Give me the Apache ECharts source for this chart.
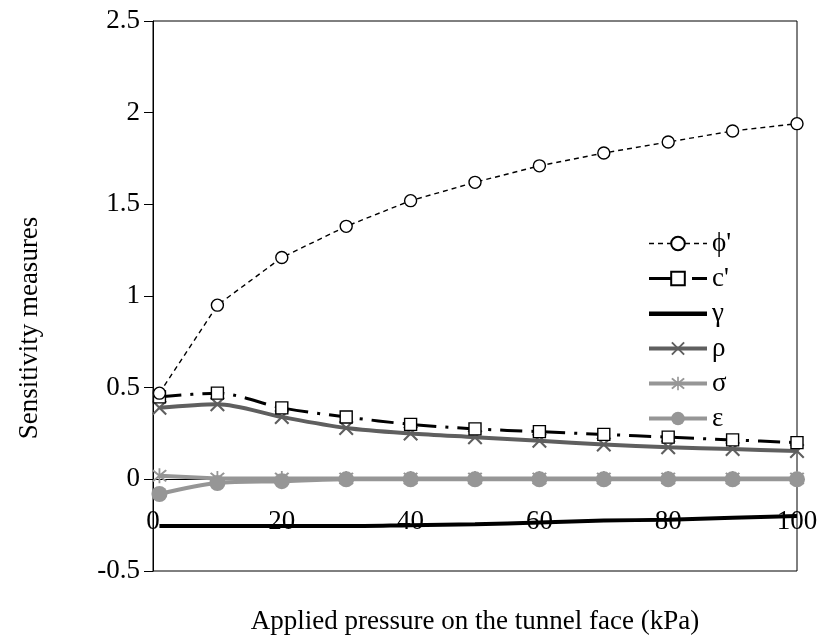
<!DOCTYPE html>
<html>
<head>
<meta charset="utf-8">
<script src="https://cdn.jsdelivr.net/npm/echarts@6/dist/echarts.min.js"></script>
<style>
html,body{margin:0;padding:0;background:#fff;}
#chart{width:819px;height:642px;}
</style>
</head>
<body>
<div id="chart"></div>
<script>
// ---- data ----
var xValues = [1, 10, 20, 30, 40, 50, 60, 70, 80, 90, 100];
var phiValues = [0.47, 0.95, 1.21, 1.38, 1.52, 1.62, 1.71, 1.78, 1.84, 1.90, 1.94];
var cValues = [0.45, 0.47, 0.39, 0.34, 0.30, 0.275, 0.26, 0.245, 0.23, 0.215, 0.20];
var gammaValues = [-0.255, -0.255, -0.255, -0.255, -0.25, -0.245, -0.235, -0.225, -0.22, -0.21, -0.20];
var rhoValues = [0.39, 0.41, 0.34, 0.28, 0.25, 0.23, 0.21, 0.19, 0.175, 0.165, 0.155];
var sigmaValues = [0.02, 0.005, 0.005, 0.005, 0.005, 0.005, 0.005, 0.005, 0.005, 0.005, 0.005];
var epsValues = [-0.08, -0.02, -0.01, 0, 0, 0, 0, 0, 0, 0, 0];
var seriesNames = ["\u03D5'", "c'", "\u03B3", "\u03C1", "\u03C3", "\u03B5"];
var yTicks = { min: -0.5, max: 2.5, interval: 0.5 };
var xTicks = { min: 0, max: 100, interval: 20 };

function pairs(ys) { return xValues.map(function (x, i) { return [x, ys[i]]; }); }

var FONT = "Liberation Serif";
var GRID = { left: 153, right: 22, top: 21, bottom: 71 };
var plotH = 642 - GRID.top - GRID.bottom;
// distance from the bottom of the plot (y = min) up to y = 0, so the x axis sits on zero
var zeroOffset = -plotH * (0 - yTicks.min) / (yTicks.max - yTicks.min);

var xPath = 'path://M0,1 L1,0 L5,4 L9,0 L10,1 L6,5 L10,9 L9,10 L5,6 L1,10 L0,9 L4,5 Z';
var starPath = 'path://M0,1 L1,0 L5,4 L9,0 L10,1 L6,5 L10,9 L9,10 L5,6 L1,10 L0,9 L4,5 Z M4.4,-1 L5.6,-1 L5.6,11 L4.4,11 Z';
var barIcon = 'path://M0,0 L58,0 L58,0.01 Z M0,6.5 L58,6.5 L58,11 L0,11 Z M0,17 L58,17 L58,16.99 Z';

var chart = echarts.init(document.getElementById('chart'), null, { renderer: 'canvas' });
chart.setOption({
  backgroundColor: '#ffffff',
  animation: false,
  grid: { left: GRID.left, right: GRID.right, top: GRID.top, bottom: GRID.bottom, outerBoundsMode: 'none',
          show: true, borderColor: '#000', borderWidth: 1, backgroundColor: 'transparent' },
  legend: {
    orient: 'vertical', left: 642, top: 225, itemWidth: 58, itemHeight: 17, itemGap: 8,
    lineStyle: { width: 'inherit' },
    textStyle: { fontFamily: FONT, fontSize: 27, color: '#000' },
    data: [seriesNames[0], seriesNames[1], { name: seriesNames[2], icon: barIcon }, seriesNames[3], seriesNames[4], seriesNames[5]]
  },
  xAxis: {
    type: 'value', min: xTicks.min, max: xTicks.max, interval: xTicks.interval,
    offset: zeroOffset,
    name: 'Applied pressure on the tunnel face (kPa)', nameLocation: 'middle', nameGap: 129,
    nameTextStyle: { fontFamily: FONT, fontSize: 27, color: '#000' },
    axisLine: { onZero: false, lineStyle: { color: '#000', width: 1 } },
    axisTick: { show: false },
    axisLabel: { fontFamily: FONT, fontSize: 27, color: '#000', margin: 29 },
    splitLine: { show: false }
  },
  yAxis: {
    type: 'value', min: yTicks.min, max: yTicks.max, interval: yTicks.interval,
    name: 'Sensitivity measures', nameLocation: 'middle', nameGap: 110,
    nameTextStyle: { fontFamily: FONT, fontSize: 27, color: '#000', padding: [0, 64, 0, 0] },
    axisLine: { lineStyle: { color: '#000', width: 1 } },
    axisTick: { show: true, length: 9, lineStyle: { color: '#000' } },
    axisLabel: { fontFamily: FONT, fontSize: 27, color: '#000', margin: 13 },
    splitLine: { show: false }
  },
  series: [
    { name: seriesNames[0], type: 'line', data: pairs(phiValues), symbol: 'circle', symbolSize: 12, z: 8,
      lineStyle: { color: '#000', width: 1.4, type: [5, 4] },
      itemStyle: { color: '#fff', borderColor: '#000', borderWidth: 1.4 } },
    { name: seriesNames[1], type: 'line', data: pairs(cValues), symbol: 'rect', symbolSize: 12, smooth: 0.3, z: 7,
      lineStyle: { color: '#000', width: 3, type: [22, 9, 3, 9] },
      itemStyle: { color: '#fff', borderColor: '#000', borderWidth: 1.4 } },
    { name: seriesNames[2], type: 'line', data: pairs(gammaValues), symbol: 'none', smooth: 0.3, z: 6,
      lineStyle: { color: '#000', width: 4 },
      itemStyle: { color: '#000' } },
    { name: seriesNames[3], type: 'line', data: pairs(rhoValues), symbol: xPath, symbolSize: 15, smooth: 0.3, z: 5,
      lineStyle: { color: '#5f5f5f', width: 4 },
      itemStyle: { color: '#5f5f5f' } },
    { name: seriesNames[4], type: 'line', data: pairs(sigmaValues), symbol: starPath, symbolSize: 15, z: 4,
      lineStyle: { color: '#969696', width: 4 },
      itemStyle: { color: '#969696' } },
    { name: seriesNames[5], type: 'line', data: pairs(epsValues), symbol: 'circle', symbolSize: 16, smooth: 0.3, z: 4,
      lineStyle: { color: '#969696', width: 4 },
      itemStyle: { color: '#969696' } }
  ]
});
</script>
</body>
</html>
